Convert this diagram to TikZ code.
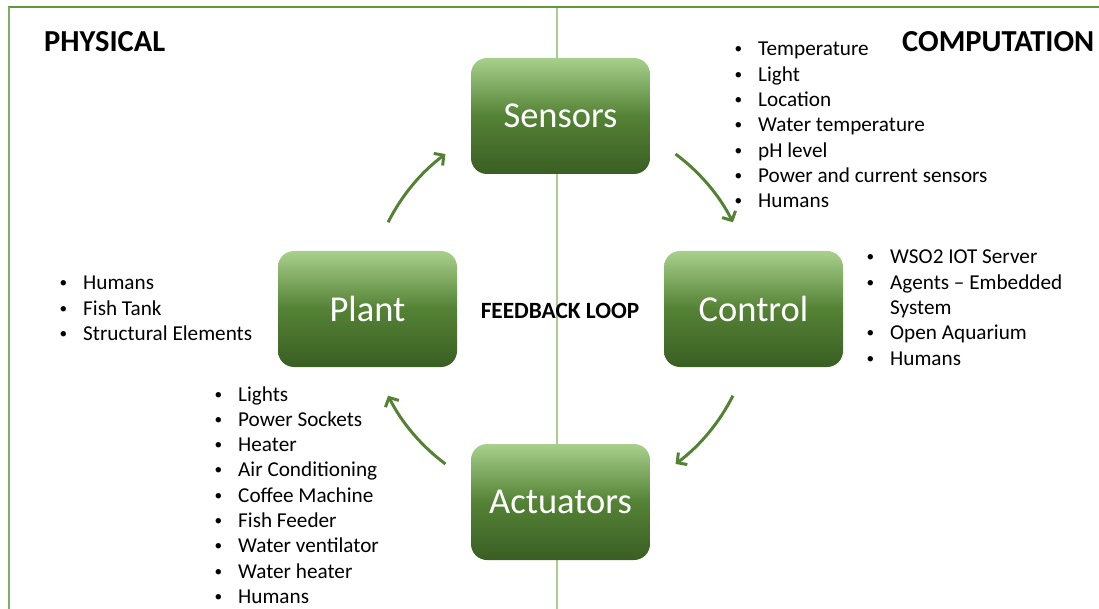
\documentclass[tikz,border=0pt]{standalone}
\usepackage{fontspec}
\usepackage{graphicx}
\setmainfont{Carlito}
\usetikzlibrary{arrows.meta}

\definecolor{frametop}{RGB}{98,152,60}
\definecolor{frameside}{RGB}{130,172,100}
\definecolor{divider}{RGB}{169,206,142}
\definecolor{loopgreen}{RGB}{84,130,53}
\definecolor{boxtop}{RGB}{168,208,140}
\definecolor{boxmid}{RGB}{84,130,53}
\definecolor{boxbot}{RGB}{58,94,35}

\tikzset{
  stage/.style={rounded corners=16pt, minimum width=179pt, minimum height=116pt,
    inner sep=0pt, top color=boxtop, bottom color=boxbot, middle color=boxmid,
    text=white, font=\fontsize{36.5}{40}\selectfont},
  heading/.style={anchor=base west, inner sep=0pt, font=\bfseries\fontsize{30.5}{34}\selectfont},
  item/.style={anchor=base west, inner sep=0pt, font=\fontsize{21.2}{25}\selectfont},
  loop arrow/.style={draw=loopgreen, line width=3pt,
    -{Straight Barb[length=7pt,width=15pt]}},
}
\newcommand{\bul}[1]{\makebox[26pt][l]{\hspace{2.5pt}\raisebox{2pt}{\scalebox{0.72}{\textbullet}}}#1}

\begin{document}
\begin{tikzpicture}[x=1pt,y=-1pt]
  \useasboundingbox (0,0) rectangle (1099,609);

  % frame and the physical / computation divider
  \draw[frametop, line width=2pt] (8,7) -- (1099,7);
  \draw[frameside, line width=1.5pt] (9,7) -- (9,609);
  \draw[divider, line width=2.5pt] (557,8) -- (557,609);

  % headings
  \node[heading] (phys) at (44,52) {PHYSICAL};
  \node[heading] (comp) at (902,52) {COMPUTATION};

  % the four stages of the loop
  \node[stage] (sensors)   at (560.5,116) {Sensors};
  \node[stage] (plant)     at (367.5,309) {Plant};
  \node[stage] (control)   at (753.5,309) {Control};
  \node[stage] (actuators) at (560.5,502) {Actuators};

  \node[anchor=base, inner sep=0pt, font=\bfseries\fontsize{23.3}{27}\selectfont]
    (feedback) at (560,318) {FEEDBACK LOOP};

  % curved arrows around the loop centre
  \coordinate (hub) at (560.5,309);
  \draw[loop arrow] ([shift={(153.3:193pt)}]hub) arc[start angle=153.3, end angle=126.6, radius=193pt];
  \draw[loop arrow] ([shift={(53.4:193pt)}]hub) arc[start angle=53.4, end angle=26.7, radius=193pt];
  \draw[loop arrow] ([shift={(-26.7:193pt)}]hub) arc[start angle=-26.7, end angle=-53.4, radius=193pt];
  \draw[loop arrow] ([shift={(-126.6:193pt)}]hub) arc[start angle=-126.6, end angle=-153.3, radius=193pt];

  % sensor list
  \foreach \t [count=\i from 0] in {Temperature, Light, Location, Water temperature,
      pH level, Power and current sensors, Humans}
    \node[item] (sens\i) at (732,56+25.3*\i) {\bul{\t}};

  % control list
  \node[item] (ctl0) at (864,264) {\bul{WSO2 IOT Server}};
  \node[item] (ctl1) at (864,289.3) {\bul{Agents – Embedded}};
  \node[item] (ctl2) at (890,314.6) {System};
  \node[item] (ctl3) at (864,339.9) {\bul{Open Aquarium}};
  \node[item] (ctl4) at (864,365.2) {\bul{Humans}};

  % plant list
  \foreach \t [count=\i from 0] in {Humans, Fish Tank, Structural Elements}
    \node[item] (pl\i) at (57,290+25.3*\i) {\bul{\t}};

  % actuator list
  \foreach \t [count=\i from 0] in {Lights, Power Sockets, Heater, Air Conditioning,
      Coffee Machine, Fish Feeder, Water ventilator, Water heater, Humans}
    \node[item] (act\i) at (212,401+25.3*\i) {\bul{\t}};
\end{tikzpicture}
\end{document}
